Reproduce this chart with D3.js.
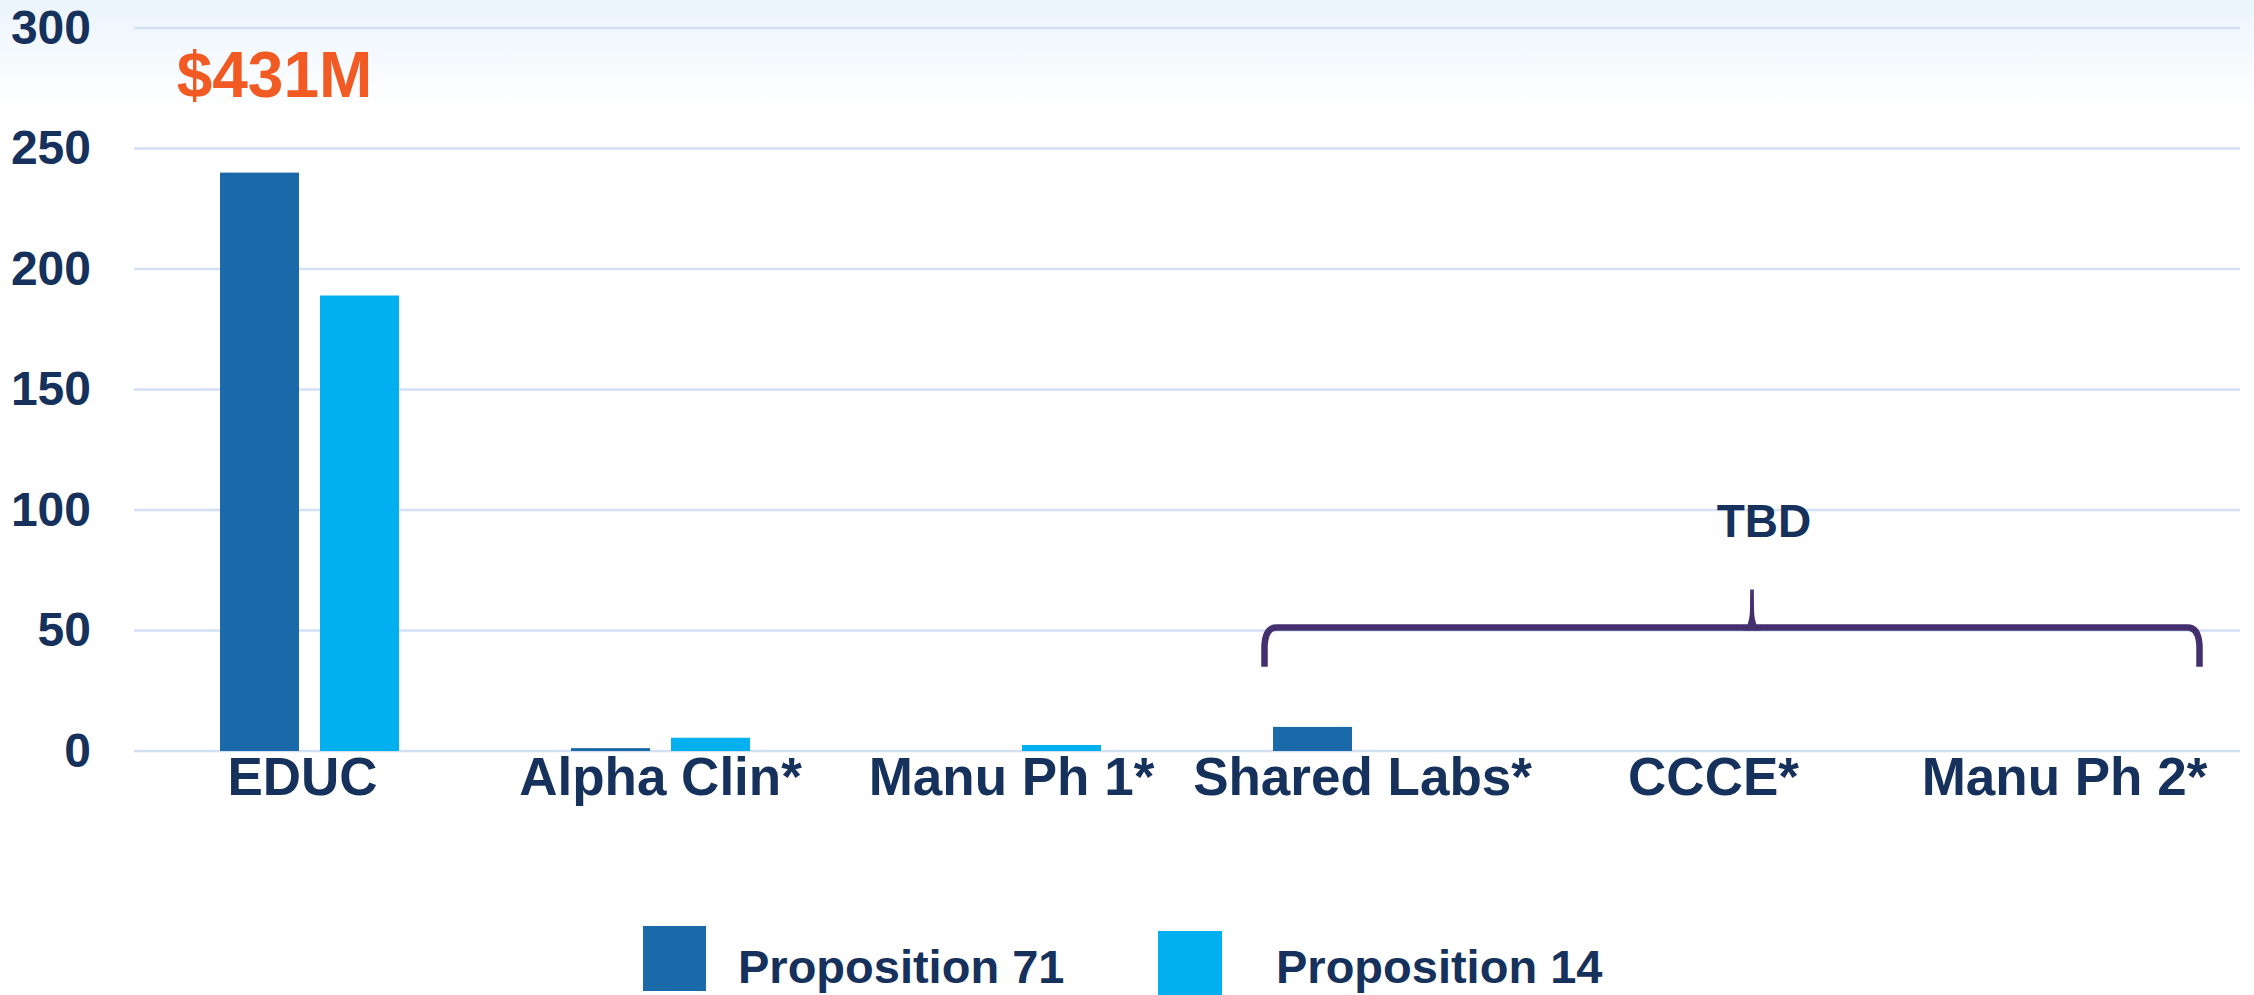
<!DOCTYPE html>
<html>
<head>
<meta charset="utf-8">
<script src="https://cdn.jsdelivr.net/npm/d3@7/dist/d3.min.js"></script>
<style>
  html, body { margin: 0; padding: 0; background: #ffffff; }
  svg { display: block; }
  text { font-family: "Liberation Sans", Arial, sans-serif; font-weight: bold; }
</style>
</head>
<body>
<svg id="chart" width="2254" height="995"></svg>
<script>
// ---- Data ----
const categories = ["EDUC", "Alpha Clin*", "Manu Ph 1*", "Shared Labs*", "CCCE*", "Manu Ph 2*"];
const seriesNames = ["Proposition 71", "Proposition 14"];
const prop71 = [240, 1.2, 0, 10, 0, 0];
const prop14 = [189, 5.5, 2.5, 0, 0, 0];
const yTicks = [0, 50, 100, 150, 200, 250, 300];
const totalLabel = "$431M";
const tbdLabel = "TBD";

// ---- Styles ----
const colors = { "Proposition 71": "#1a6aa9", "Proposition 14": "#02b0f0" };
const textColor = "#15315c";
const gridColor = "#d3e0f3";
const braceColor = "#45306f";

const W = 2254, H = 995;
const svg = d3.select("#chart");

// background gradient at top
const defs = svg.append("defs");
const grad = defs.append("linearGradient").attr("id", "bg").attr("x1", 0).attr("y1", 0).attr("x2", 0).attr("y2", 1);
grad.append("stop").attr("offset", "0%").attr("stop-color", "#ebf4fc");
grad.append("stop").attr("offset", "100%").attr("stop-color", "#ffffff");
svg.append("rect").attr("x", 0).attr("y", 0).attr("width", W).attr("height", 110).attr("fill", "url(#bg)");

// ---- Scales ----
const plotLeft = 134, plotRight = 2240;
const y = d3.scaleLinear().domain([0, 300]).range([751, 28]);
const x0 = d3.scaleBand().domain(categories).range([plotLeft, plotRight]).paddingInner(0).paddingOuter(0);
const x1 = d3.scaleBand().domain(seriesNames).range([86, 265]).paddingInner(0.21).paddingOuter(0);

// ---- Gridlines ----
svg.append("g").selectAll("line").data(yTicks).join("line")
  .attr("x1", plotLeft).attr("x2", plotRight)
  .attr("y1", d => y(d)).attr("y2", d => y(d))
  .attr("stroke", gridColor).attr("stroke-width", 2.5);

// ---- Y axis ----
const yAxis = svg.append("g")
  .attr("transform", `translate(${plotLeft},0)`)
  .call(d3.axisLeft(y).tickValues(yTicks).tickSize(0).tickPadding(43).tickFormat(d3.format("d")));
yAxis.select(".domain").remove();
yAxis.selectAll("text")
  .attr("fill", textColor)
  .style("font-size", "48px")
  .style("font-family", "'Liberation Sans', Arial, sans-serif")
  .style("font-weight", "bold");

// ---- X axis labels ----
const xAxis = svg.append("g")
  .attr("transform", `translate(0,${y(0)})`)
  .call(d3.axisBottom(x0).tickSize(0).tickPadding(6));
xAxis.select(".domain").remove();
xAxis.selectAll("text")
  .attr("fill", textColor)
  .attr("dy", "0.71em")
  .attr("dx", (d, i) => i === 0 ? -7 : 0)
  .style("font-size", "53px")
  .style("font-family", "'Liberation Sans', Arial, sans-serif")
  .style("font-weight", "bold");

// ---- Bars ----
const rows = categories.map((c, i) => ({ cat: c, values: [
  { key: "Proposition 71", value: prop71[i] },
  { key: "Proposition 14", value: prop14[i] }
]}));

svg.append("g").selectAll("g").data(rows).join("g")
  .attr("transform", d => `translate(${x0(d.cat)},0)`)
  .selectAll("rect").data(d => d.values.filter(v => v.value > 0)).join("rect")
  .attr("x", d => x1(d.key))
  .attr("width", x1.bandwidth())
  .attr("y", d => y(d.value))
  .attr("height", d => y(0) - y(d.value))
  .attr("fill", d => colors[d.key]);

// ---- $431M annotation ----
svg.append("text")
  .attr("x", x0("EDUC") + 140.5)
  .attr("y", y(271.5))
  .attr("text-anchor", "middle")
  .attr("fill", "#f15a22")
  .style("font-size", "64px")
  .text(totalLabel);

// ---- TBD brace ----
const bw = x0.bandwidth();
const xl = x0("Shared Labs*") + bw / 2 - 98;
const xr = x0("Manu Ph 2*") + bw / 2 + 135;
const xm = x0("CCCE*") + 214;
const yb = y(51.2), yEnd = y(35), ySpike = y(67);
const r = 12;
const p = d3.path();
p.moveTo(xl, yEnd);
p.lineTo(xl, yb + r + 6);
p.quadraticCurveTo(xl + 1, yb, xl + r, yb);
p.lineTo(xr - r, yb);
p.quadraticCurveTo(xr - 1, yb, xr, yb + r + 6);
p.lineTo(xr, yEnd);
svg.append("path").attr("d", p.toString())
  .attr("fill", "none").attr("stroke", braceColor).attr("stroke-width", 6.5);

const s = d3.path();
s.moveTo(xm - 9, yb + 3);
s.quadraticCurveTo(xm - 2, yb - 2, xm - 2, yb - 20);
s.lineTo(xm - 1.8, ySpike);
s.lineTo(xm + 1.8, ySpike);
s.lineTo(xm + 2, yb - 20);
s.quadraticCurveTo(xm + 2, yb - 2, xm + 9, yb + 3);
s.closePath();
svg.append("path").attr("d", s.toString()).attr("fill", braceColor);

svg.append("text")
  .attr("x", xm + 12)
  .attr("y", y(89))
  .attr("text-anchor", "middle")
  .attr("fill", textColor)
  .style("font-size", "46px")
  .text(tbdLabel);

// ---- Legend ----
const legendItems = [
  { key: "Proposition 71", sx: 643, sy: 926, sw: 63, sh: 65, tx: 738 },
  { key: "Proposition 14", sx: 1158, sy: 931, sw: 64, sh: 64, tx: 1276 }
];
const lg = svg.append("g");
lg.selectAll("rect").data(legendItems).join("rect")
  .attr("x", d => d.sx).attr("y", d => d.sy)
  .attr("width", d => d.sw).attr("height", d => d.sh)
  .attr("fill", d => colors[d.key]);
lg.selectAll("text").data(legendItems).join("text")
  .attr("x", d => d.tx).attr("y", 983)
  .attr("fill", textColor)
  .style("font-size", "47px")
  .text(d => d.key);
</script>
</body>
</html>
